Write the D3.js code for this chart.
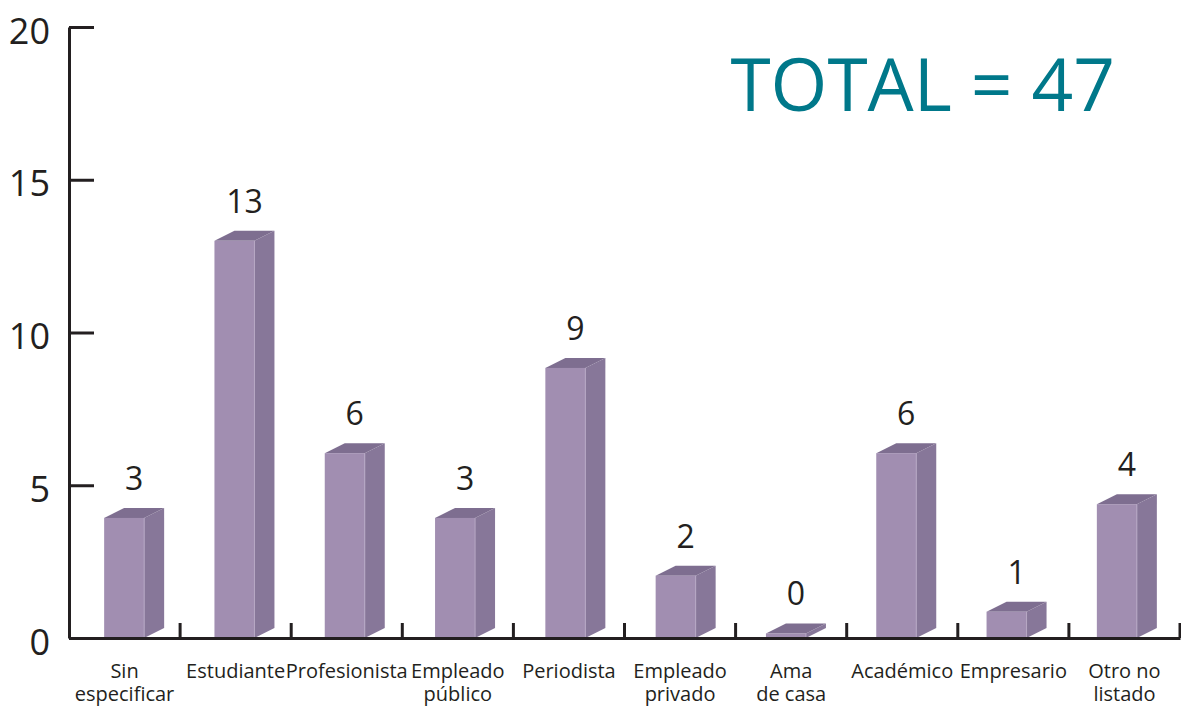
<!DOCTYPE html>
<html>
<head>
<meta charset="utf-8">
<script src="https://cdn.jsdelivr.net/npm/d3@7"></script>
<style>
  body { margin: 0; background: #fff; }
  svg text { font-family: "Open Sans", "Noto Sans", sans-serif; fill: #231f20; }
</style>
</head>
<body>
<svg width="1181" height="708"></svg>
<script>
var categories = ["Sin\nespecificar", "Estudiante", "Profesionista", "Empleado\npúblico", "Periodista",
                  "Empleado\nprivado", "Ama\nde casa", "Académico", "Empresario", "Otro no\nlistado"];
// bar heights as drawn in the picture
var barValues = [3.93, 13.0, 6.05, 3.93, 8.84, 2.04, 0.15, 6.05, 0.86, 4.38];
// numbers printed above the bars
var barLabels = ["3", "13", "6", "3", "9", "2", "0", "6", "1", "4"];
var yTicks = [0, 5, 10, 15, 20];
var totalText = "TOTAL = 47";

var svg = d3.select("svg");
var dark = "#231f20";

var y = d3.scaleLinear().domain([0, 20]).range([638, 27]);
var x = d3.scaleBand().domain(categories).range([69, 1180]);
var xb = d3.scaleBand().domain(categories).range([69, 1172]);

var barW = 40, depthX = 20, depthY = 10;

// y axis
var yAxis = svg.append("g")
    .attr("transform", "translate(69,0)")
    .call(d3.axisLeft(y).tickValues(yTicks).tickSize(-25).tickSizeOuter(0).tickPadding(19));
yAxis.select(".domain").attr("stroke", dark).attr("stroke-width", 3);
yAxis.selectAll(".tick line").attr("stroke", dark).attr("stroke-width", 3);
yAxis.selectAll(".tick text")
    .attr("dy", "0.45em")
    .style("font-size", "36px")
    .attr("fill", dark);

// bars
var bars = svg.append("g").selectAll("g")
    .data(categories)
    .enter().append("g");

function x0(d) { return xb(d) + xb.bandwidth() / 2 - barW / 2; }

bars.append("polygon")
    .attr("fill", "#877799")
    .attr("points", function(d, i) {
        var a = x0(d) + barW, t = y(barValues[i]), b = y(0);
        return [[a, b], [a + depthX, b - depthY], [a + depthX, t - depthY], [a, t]].join(" ");
    });
bars.append("polygon")
    .attr("fill", "#7e6e90")
    .attr("points", function(d, i) {
        var a = x0(d), t = y(barValues[i]);
        return [[a, t], [a + depthX, t - depthY], [a + barW + depthX, t - depthY], [a + barW, t]].join(" ");
    });
bars.append("rect")
    .attr("fill", "#a18eb1")
    .attr("x", function(d) { return x0(d); })
    .attr("y", function(d, i) { return y(barValues[i]); })
    .attr("width", barW)
    .attr("height", function(d, i) { return y(0) - y(barValues[i]); });
bars.append("line")
    .attr("stroke", "#b6a7c4")
    .attr("stroke-width", 1)
    .attr("x1", function(d) { return x0(d) + barW; })
    .attr("x2", function(d) { return x0(d) + barW; })
    .attr("y1", function(d, i) { return y(barValues[i]); })
    .attr("y2", y(0));

bars.append("text")
    .attr("x", function(d) { return x0(d) + barW / 2 + 10; })
    .attr("y", function(d, i) { return y(barValues[i]) - depthY - 18; })
    .attr("text-anchor", "middle")
    .style("font-size", "32px")
    .text(function(d, i) { return barLabels[i]; });

// x axis
var xAxis = svg.append("g")
    .attr("transform", "translate(0,638)")
    .call(d3.axisBottom(x).tickSize(0).tickSizeOuter(0).tickFormat(""));
xAxis.select(".domain").attr("stroke", dark).attr("stroke-width", 3);

svg.append("g").selectAll("line")
    .data(categories)
    .enter().append("line")
    .attr("stroke", dark).attr("stroke-width", 3)
    .attr("x1", function(d) { return x(d) + x.step(); })
    .attr("x2", function(d) { return x(d) + x.step(); })
    .attr("y1", 638).attr("y2", 623);

var xl = svg.append("g").selectAll("text")
    .data(categories)
    .enter().append("text")
    .attr("text-anchor", "middle")
    .style("font-size", "20px")
    .attr("x", function(d) { return x(d) + x.bandwidth() / 2; })
    .attr("y", 678);
xl.selectAll("tspan")
    .data(function(d) { return d.split("\n"); })
    .enter().append("tspan")
    .attr("x", function() { return d3.select(this.parentNode).attr("x"); })
    .attr("dy", function(d, i) { return i ? 23 : 0; })
    .text(function(d) { return d; });

// total
svg.append("text")
    .attr("x", 1115)
    .attr("y", 111)
    .attr("text-anchor", "end")
    .style("font-size", "73px")
    .style("fill", "#00788a")
    .text(totalText);
</script>
</body>
</html>
